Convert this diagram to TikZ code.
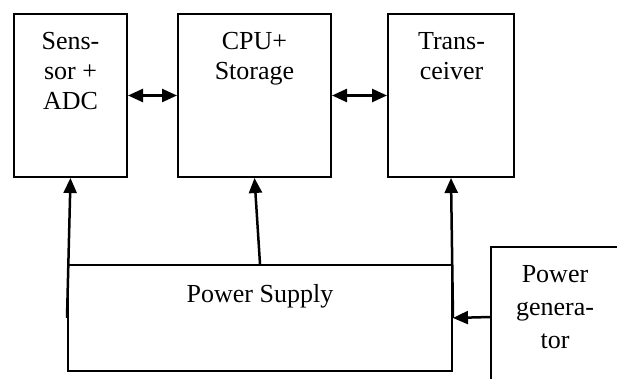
\documentclass[tikz,border=0pt]{standalone}
\usepackage{fontspec}
\setmainfont{Liberation Serif}
\usetikzlibrary{arrows.meta}
\tikzset{
  blk/.style={draw, line width=2pt, inner sep=0pt},
  lbl/.style={inner sep=0pt, align=center, font=\fontsize{26}{30}\selectfont},
  conn/.style={line width=2.5pt, -{Triangle[length=15pt,width=13pt]}},
  biconn/.style={line width=2.5pt, {Triangle[length=15pt,width=13pt]}-{Triangle[length=15pt,width=13pt]}}
}
\begin{document}
\begin{tikzpicture}[x=1pt,y=1pt]
\useasboundingbox (0,0) rectangle (617,-379);
\node[blk, minimum width=113pt, minimum height=163pt] (sensor) at (70.5,-95.5) {};
\node[blk, minimum width=153pt, minimum height=163pt] (cpu) at (254.5,-95.5) {};
\node[blk, minimum width=126pt, minimum height=163pt] (trx) at (451,-95.5) {};
\node[blk, minimum width=384pt, minimum height=106pt] (psu) at (260,-318) {};
\node[blk, minimum width=250pt, minimum height=140pt] (gen) at (616,-317) {};

\node[lbl, anchor=north] (sensortext) at (70.5,-32) {Sens-\\sor +\\ADC};
\node[lbl, anchor=north] (cputext) at (254.5,-32) {CPU+\\Storage};
\node[lbl, anchor=north] (trxtext) at (451.5,-32) {Trans-\\ceiver};
\node[lbl, anchor=base] (psutext) at (260,-302) {Power Supply};
\node[lbl, anchor=north, font=\fontsize{26}{33}\selectfont] (gentext) at (555,-265) {Power\\genera-\\tor};

\draw[biconn] (sensor.east) -- (cpu.west);
\draw[biconn] (cpu.east) -- (trx.west);
\draw[conn] (psu.west) -- (sensor.south);
\draw[conn] (psu.north) -- (cpu.south);
\draw[conn] (psu.east) -- (trx.south);
\draw[conn] (gen.west) -- (psu.east);
\end{tikzpicture}
\end{document}
